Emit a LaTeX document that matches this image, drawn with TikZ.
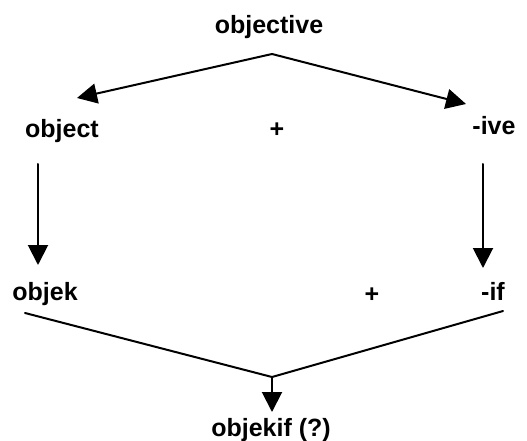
\documentclass[tikz,border=0pt]{standalone}
\usepackage{fontspec}
\setmainfont{Liberation Sans}
\usetikzlibrary{arrows.meta}
\begin{document}
\begin{tikzpicture}[x=1pt,y=-1pt,
  word/.style={font=\bfseries\fontsize{25}{28}\selectfont, inner sep=0pt, anchor=base},
  link/.style={line width=2pt, line cap=round},
  arrow/.style={link, -{Triangle[length=20pt,width=20pt]}}]
\useasboundingbox (0,0) rectangle (527,441);
% words
\node[word] (top)    at (269,34)  {objective};
\node[word] (object) at (62,137)  {object};
\node[word] (plusa)  at (277,137) {+};
\node[word] (ive)    at (494,135) {-ive};
\node[word] (objek)  at (45,300)  {objek};
\node[word] (plusb)  at (372,302) {+};
\node[word] (suf)    at (493,300) {-if};
\node[word] (res)    at (271,436) {objekif (?)};
% connector end points
\coordinate (apexa) at (272,54);
\coordinate (tipl)  at (77,98);
\coordinate (tipr)  at (466,104);
\coordinate (vla)   at (38,164);
\coordinate (vlb)   at (38,265);
\coordinate (vra)   at (483,164);
\coordinate (vrb)   at (483,268);
\coordinate (lowl)  at (25,313);
\coordinate (lowr)  at (503,311);
\coordinate (apexb) at (272,377);
\coordinate (tipb)  at (272,412);
% connectors
\draw[arrow] (apexa) -- (tipl);
\draw[arrow] (apexa) -- (tipr);
\draw[arrow] (vla) -- (vlb);
\draw[arrow] (vra) -- (vrb);
\draw[link] (lowl) -- (apexb) -- (lowr);
\draw[arrow] (apexb) -- (tipb);
\end{tikzpicture}
\end{document}
